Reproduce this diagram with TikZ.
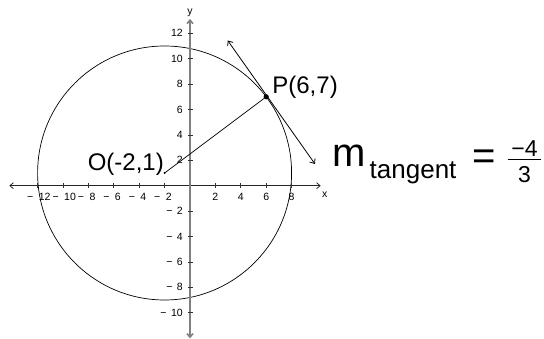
\documentclass[tikz,border=0pt]{standalone}
\usepackage{fontspec}
\setmainfont{Liberation Sans}
\usetikzlibrary{arrows.meta}
\begin{document}
\begin{tikzpicture}[x=1pt,y=-1pt,
  xaxis/.style={line width=0.8pt, draw=black!85, {Straight Barb[length=3.5pt,width=6pt]}-{Straight Barb[length=3.5pt,width=6pt]}},
  yaxis/.style={line width=1.6pt, draw=black!50, {Straight Barb[length=3.5pt,width=6pt]}-{Straight Barb[length=3.5pt,width=6pt]}},
  tickmark/.style={line width=0.7pt, draw=black!80},
  tl/.style={font=\fontsize{10.5}{12}\selectfont, inner sep=0pt, text=black},
  big/.style={font=\fontsize{24}{28}\selectfont, inner sep=0pt},
  tangentline/.style={line width=0.8pt, {Straight Barb[length=4pt,width=6.5pt]}-{Straight Barb[length=4pt,width=6.5pt]}}
]
\fill[white] (0,0) rectangle (544,339);
\useasboundingbox (0,0) rectangle (544,339);
\begin{scope}[shift={(190,185.7)},x=12.7pt,y=12.7pt]
  % circle
  \draw[line width=0.7pt] (-2,1) circle[radius=10];
  % axes
  \coordinate (xL) at (-14.23,0);
  \coordinate (xR) at (10.29,0);
  \coordinate (yB) at (0,-12.02);
  \coordinate (yT) at (0,13.13);
  \draw[xaxis] (xL) -- (xR);
  \draw[yaxis] (yB) -- (yT);
  % x ticks and labels
  \foreach \i in {-12,-10,-8,-6,-4,-2,2,4,6,8}{
    \draw[tickmark] (\i,0) ++(0,-2.5pt) -- ++(0,5pt);
  }
  \foreach \i/\n in {-12/12,-10/10,-8/8,-6/6,-4/4,-2/2}{
    \node[tl, anchor=base west] (xlab\n) at ([xshift=1pt,yshift=-15.3pt]\i,0) {\llap{−\hspace{5.5pt}}\n};
  }
  \foreach \i in {2,4,6,8}{
    \node[tl, anchor=base] (xlabp\i) at ([yshift=-15.3pt]\i,0) {\i};
  }
  % y ticks and labels
  \foreach \i in {-10,-8,-6,-4,-2,2,4,6,8,10,12}{
    \draw[tickmark] (0,\i) ++(-2.5pt,0) -- ++(5pt,0);
  }
  \foreach \i in {2,4,6,8,10,12}{
    \node[tl, anchor=east] (ylabp\i) at ([xshift=-7pt]0,\i) {\i};
  }
  \foreach \i/\n in {-10/10,-8/8,-6/6,-4/4,-2/2}{
    \node[tl, anchor=east] (ylabn\n) at ([xshift=-7pt]0,\i) {−\hspace{4.5pt}\n};
  }
  \node[tl] (xname) at ([xshift=4pt,yshift=-9.3pt]xR) {x};
  \node[tl] (yname) at ([yshift=5.7pt]yT) {y};
  % points
  \coordinate (O) at (-2,1);
  \coordinate (P) at (6,7);
  \draw[line width=0.7pt] (O) -- (P);
  \fill (O) circle[radius=1.1pt];
  \fill (P) circle[radius=2.6pt];
\end{scope}
% tangent line
\coordinate (T1) at (227.7,40.5);
\coordinate (T2) at (315,164);
\draw[tangentline] (T1) -- (T2);
% labels
\node[big, anchor=base east] (Olab) at (164,170.7) {O(-2,1)};
\node[big, anchor=base west] (Plab) at (272.2,94) {P(6,7)};
\node[font=\fontsize{40}{44}\selectfont, inner sep=0pt, anchor=base west] (mlab) at (332,166.7) {m};
\node[font=\fontsize{26}{30}\selectfont, inner sep=0pt, anchor=base west] (tlab) at (369.5,178.3) {tangent};
\node[font=\fontsize{40}{44}\selectfont, inner sep=0pt] (eq) at (484,160) {=};
\node[font=\fontsize{23}{26}\selectfont, inner sep=0pt, anchor=base] (num) at (524.5,156.5) {−4};
\node[font=\fontsize{23}{26}\selectfont, inner sep=0pt, anchor=base] (den) at (524.5,182.5) {3};
\draw[line width=1.3pt] (507.5,159.5) -- (541,159.5);
\end{tikzpicture}
\end{document}
